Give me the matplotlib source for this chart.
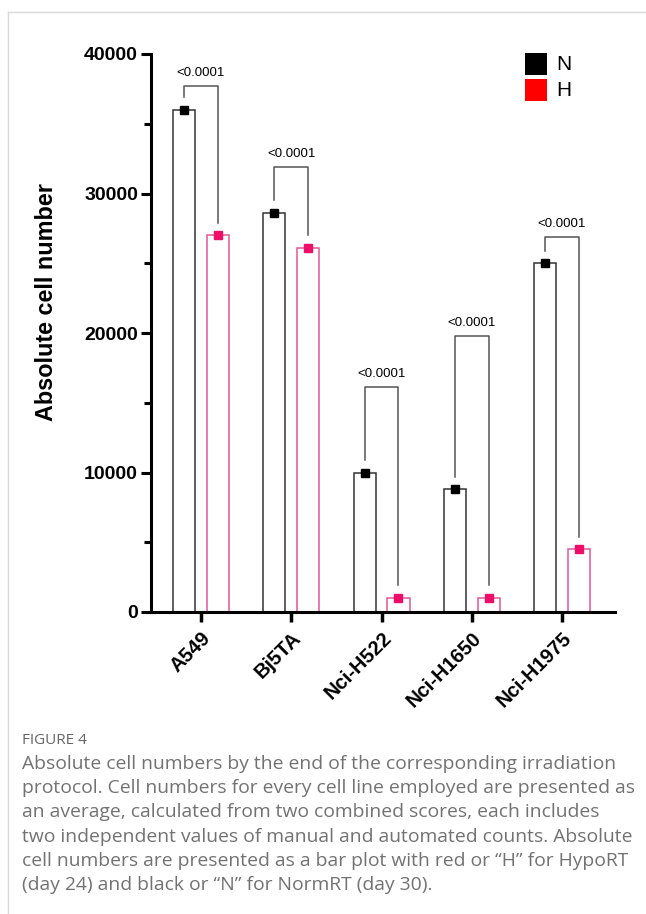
import matplotlib
matplotlib.use("Agg")
import matplotlib.pyplot as plt
from matplotlib.lines import Line2D
from matplotlib.patches import Rectangle
import numpy as np

cell_lines = ["A549", "Bj5TA", "Nci-H522", "Nci-H1650", "Nci-H1975"]
n_values = [36000, 28600, 10000, 8800, 25000]
h_values = [27000, 26100, 1000, 1000, 4500]
bracket_tops = [37700, 31900, 16100, 19800, 26900]
p_labels = ["<0.0001"] * 5
legend_names = ["N", "H"]
legend_colors = ["black", "red"]

caption_title = "FIGURE 4"
caption_lines = [
    "Absolute cell numbers by the end of the corresponding irradiation",
    "protocol. Cell numbers for every cell line employed are presented as",
    "an average, calculated from two combined scores, each includes",
    "two independent values of manual and automated counts. Absolute",
    "cell numbers are presented as a bar plot with red or \u201cH\u201d for HypoRT",
    "(day 24) and black or \u201cN\u201d for NormRT (day 30).",
]

plt.rcParams['font.family'] = ['Liberation Sans', 'DejaVu Sans']

W, H = 646, 914
fig = plt.figure(figsize=(W / 100, H / 100), dpi=100)
ax = fig.add_axes([150.5 / W, 1 - 612 / H, (615 - 150.5) / W, (612 - 54) / H])

x = np.arange(len(cell_lines))
off = 0.188
bw = 0.244
pink_edge = "#e2569a"
pink = "#ee0e6a"

ax.bar(x - off, n_values, bw, facecolor="white", edgecolor="#333333", linewidth=1.1, zorder=2)
ax.bar(x + off, h_values, bw, facecolor="white", edgecolor=pink_edge, linewidth=1.1, zorder=2)
ax.plot(x - off, n_values, "s", color="black", markersize=6, zorder=3, linestyle="none")
ax.plot(x + off, h_values, "s", color=pink, markersize=6, zorder=3, linestyle="none")

gap = 900
for i in range(len(cell_lines)):
    top = bracket_tops[i]
    ax.plot([x[i] - off, x[i] - off, x[i] + off, x[i] + off],
            [n_values[i] + gap, top, top, h_values[i] + gap],
            color="#555555", linewidth=1.1, zorder=1)
    ax.annotate(p_labels[i], (x[i], top), xytext=(0, 5), textcoords="offset points",
                ha="center", va="bottom", fontsize=9.5)

ax.set_xlim(-0.56, 4.587)
ax.set_ylim(0, 40000)
ax.set_yticks([0, 10000, 20000, 30000, 40000])
ax.set_yticks([5000, 15000, 25000, 35000], minor=True)
ax.set_xticks(x)
ax.set_xticklabels(cell_lines, rotation=45, ha="right", rotation_mode="anchor",
                   fontsize=14.5, fontweight="bold")
for lab in ax.get_yticklabels():
    lab.set_fontweight("bold")
    lab.set_fontsize(14)
ax.tick_params(axis="y", which="major", length=7, width=2.2, pad=2)
ax.tick_params(axis="y", which="minor", length=5, width=2.2)
ax.tick_params(axis="x", which="major", length=7, width=2.5, pad=5)
for s in ["top", "right"]:
    ax.spines[s].set_visible(False)
for s in ["left", "bottom"]:
    ax.spines[s].set_linewidth(2.2)
ax.set_ylabel("Absolute cell number", fontsize=16.8, fontweight="bold")
ax.yaxis.set_label_coords((58 - 150.5) / 464.5, (612 - 302) / 558)

# legend drawn by hand in figure pixels
for k, (name, col) in enumerate(zip(legend_names, legend_colors)):
    y0 = 53 + 26 * k
    fig.add_artist(Rectangle((525 / W, 1 - (y0 + 22) / H), 22 / W, 22 / H,
                             facecolor=col, edgecolor="none", transform=fig.transFigure))
    fig.text(556 / W, 1 - (y0 + 11) / H, name, fontsize=15, va="center", ha="left")

# frame around the figure
fig.add_artist(Line2D([8 / W, 8 / W], [0, 1 - 12 / H], color="#d9d9d9", linewidth=1))
fig.add_artist(Line2D([8 / W, 1], [1 - 12 / H, 1 - 12 / H], color="#d9d9d9", linewidth=1))

fig.text(22 / W, 1 - 741 / H, caption_title, fontsize=11, color="#666666",
         family="Open Sans", va="center")
for k, line in enumerate(caption_lines):
    fig.text(22 / W, 1 - (764 + 24.2 * k) / H, line, fontsize=13.85, color="#727272",
             family="Open Sans", va="center")

fig.savefig("out.png", dpi=100)
